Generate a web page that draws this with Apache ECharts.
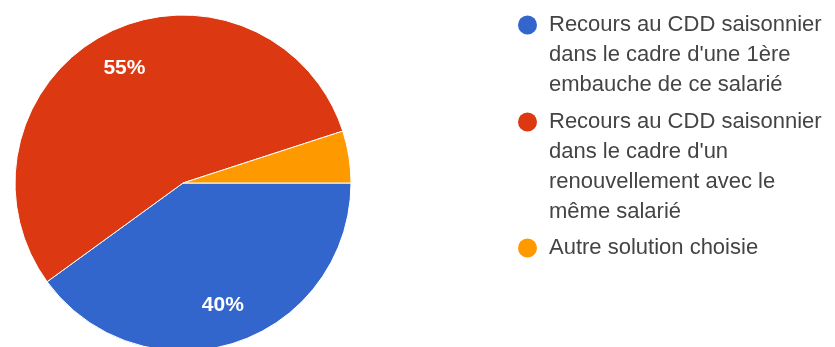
<!DOCTYPE html>
<html>
<head>
<meta charset="utf-8">
<script src="https://cdn.jsdelivr.net/npm/echarts@6/dist/echarts.min.js"></script>
<style>
  html, body { margin: 0; padding: 0; background: #ffffff; }
  #chart { width: 835px; height: 347px; }
</style>
</head>
<body>
<div id="chart"></div>
<script>
// ---- data ----
var categoryLines = [
  ["Recours au CDD saisonnier", "dans le cadre d'une 1ère", "embauche de ce salarié"],
  ["Recours au CDD saisonnier", "dans le cadre d'un", "renouvellement avec le", "même salarié"],
  ["Autre solution choisie"]
];
var categories = categoryLines.map(function (l) { return l.join(' '); });
var values = [40, 55, 5];
var colors = ['#3366cc', '#dc3912', '#ff9900'];
var legendTops = [10, 107, 233];

// ---- chart ----
var chart = echarts.init(document.getElementById('chart'), null, { renderer: 'canvas' });

var LINE_H = 30;
var ICON_W = 26;

function iconPath(nLines) {
  var h = nLines * LINE_H;
  return 'path://M0,0 M' + ICON_W + ',' + h +
    ' M19,15 A9.5,9.5 0 1,0 0,15 A9.5,9.5 0 1,0 19,15 Z';
}

var legends = categories.map(function (name, i) {
  var n = categoryLines[i].length;
  return {
    orient: 'vertical',
    left: 518,
    top: legendTops[i],
    padding: 0,
    itemWidth: ICON_W,
    itemHeight: n * LINE_H,
    selectedMode: false,
    itemStyle: { borderWidth: 0 },
    data: [{ name: name, icon: iconPath(n) }],
    formatter: function (nm) {
      var idx = categories.indexOf(nm);
      return categoryLines[idx].join('\n');
    },
    textStyle: {
      fontFamily: 'Liberation Sans, Arial, Helvetica, sans-serif',
      fontSize: 22,
      lineHeight: LINE_H,
      color: '#444444'
    }
  };
});

var pieData = categories.map(function (name, i) {
  return { name: name, value: values[i], itemStyle: { color: colors[i] } };
});

var labelData = categories.map(function (name, i) {
  return { name: name, value: values[i], label: { show: values[i] >= 10 } };
});

var option = {
  backgroundColor: '#ffffff',
  animation: false,
  legend: legends,
  series: [
    {
      type: 'pie',
      center: [183, 183],
      radius: [0, 168],
      startAngle: 0,
      clockwise: true,
      silent: true,
      label: { show: false },
      labelLine: { show: false },
      itemStyle: { borderColor: '#ffffff', borderWidth: 1 },
      data: pieData
    },
    {
      type: 'pie',
      center: [183, 183],
      radius: [84, 168],
      startAngle: 0,
      clockwise: true,
      silent: true,
      legendHoverLink: false,
      itemStyle: { color: 'rgba(0,0,0,0)', borderWidth: 0 },
      emphasis: { disabled: true },
      label: {
        show: true,
        position: 'inside',
        formatter: '{d}%',
        color: '#ffffff',
        fontFamily: 'Liberation Sans, Arial, Helvetica, sans-serif',
        fontSize: 21,
        fontWeight: 'bold'
      },
      labelLine: { show: false },
      data: labelData
    }
  ]
};

chart.setOption(option);
</script>
</body>
</html>
